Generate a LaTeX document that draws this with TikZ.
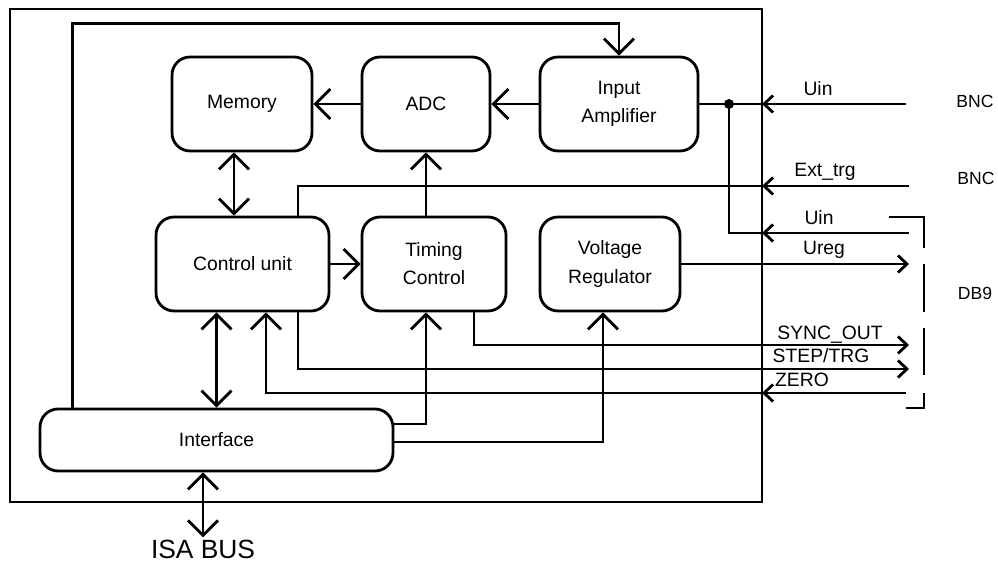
\documentclass[tikz,border=0pt]{standalone}
\usepackage{fontspec}
\setmainfont{Liberation Sans}
\usepackage{tikz}
\usetikzlibrary{calc,arrows.meta}
\definecolor{wireBlack}{RGB}{0,0,0}

\begin{document}
\begin{tikzpicture}[x=0.02cm, y=-0.02cm, line width=1.6pt, draw=wireBlack,
  blk/.style={draw, rounded corners=0.36cm, align=center, minimum height=1.88cm, font=\fontsize{11}{16}\selectfont},
  sig/.style={anchor=base, inner sep=0pt, font=\fontsize{11}{13}\selectfont},
  plug/.style={anchor=base, inner sep=0pt, font=\fontsize{10}{12}\selectfont},
  bigtip/.style={-{Straight Barb[length=3mm,width=6mm]}},
  bothtip/.style={{Straight Barb[length=3mm,width=6mm]}-{Straight Barb[length=3mm,width=6mm]}},
  smalltip/.style={-{Straight Barb[length=1.8mm,width=3.4mm]}}]
\useasboundingbox (0,0) rectangle (998,563);
\fill[white] (0,0) rectangle (998,563);

\draw (10,9) rectangle (762,502);

% blocks
\node[blk, minimum width=2.8cm] (mem) at (242,104) {Memory};
\node[blk, minimum width=2.56cm] (adc) at (426,104) {ADC};
\node[blk, minimum width=3.16cm] (amp) at (619,104) {Input\\Amplifier};
\node[blk, minimum width=3.46cm] (ctrl) at (242.5,264) {Control unit};
\node[blk, minimum width=2.88cm] (tim) at (434,264) {Timing\\Control};
\node[blk, minimum width=2.8cm] (vreg) at (610,264) {Voltage\\Regulator};
\node[blk, minimum width=7.06cm, minimum height=1.24cm] (intf) at (216.5,440) {Interface};
\node[anchor=base, inner sep=1pt, font=\fontsize{15}{17}\selectfont] (isa) at (203,559) {ISA BUS};

% ports on the right
\coordinate (e1) at (762,104);
\coordinate (e2) at (762,186);
\coordinate (e3) at (762,233);
\coordinate (e4) at (762,393);
\coordinate (jn) at (729,104);
\coordinate (pUin1) at (906,104);
\coordinate (pExt) at (909,186);
\coordinate (pUin2) at (909,233);
\coordinate (pUreg) at (909,264);
\coordinate (pSync) at (909,345);
\coordinate (pStep) at (909,369);
\coordinate (pZero) at (906,393);

\node[sig] (lUin1) at (818,96) {Uin};
\node[sig] (lExt) at (825,177) {Ext\_trg};
\node[sig] (lUin2) at (819,225) {Uin};
\node[sig] (lUreg) at (824,255) {Ureg};
\node[sig] (lSync) at (830,340) {SYNC\_OUT};
\node[sig] (lStep) at (821,363) {STEP/TRG};
\node[sig] (lZero) at (802,387) {ZERO};
\node[plug] (bnc1) at (975,108) {BNC};
\node[plug] (bnc2) at (976,185) {BNC};
\node[plug] (db9) at (975,300) {DB9};

% connectors
\draw[bigtip] (adc.west) -- (mem.east);
\draw[bigtip] (amp.west) -- (adc.east);
\draw[bothtip] ($(mem.south)+(-8,0)$) -- ($(ctrl.north)+(-8.5,0)$);
\draw[bigtip] (ctrl.east) -- (tim.west);
\draw[bigtip] (tim.north -| adc.south) -- (adc.south);
\draw[bothtip] (ctrl.south -| intf.north) -- (intf.north);
\draw[bothtip] (isa.north) -- (isa.north |- intf.south);
\draw[bigtip] ($(intf.north west)+(34,0)$) |- ($(amp.north)+(0,-32)$) -- (amp.north);
\draw[bigtip] ($(intf.east)+(0,-16)$) -| (tim.south -| adc.south);
\draw[bigtip] ($(intf.east)+(0,2)$) -| ($(vreg.south)+(-7,0)$);

\draw[smalltip] (pUin1) -- (e1);
\draw (e1) -- (amp.east);
\fill (jn) circle[radius=0.1cm];
\draw[smalltip] (pUin2) -- (e3);
\draw (e3) -| (jn);
\draw[smalltip] (pExt) -- (e2);
\draw (e2) -| ($(ctrl.north)+(55.5,0)$);
\draw[smalltip] (vreg.east) -- (pUreg);
\draw[smalltip] ($(tim.south)+(40,0)$) |- (pSync);
\draw[smalltip] ($(ctrl.south)+(55.5,0)$) |- (pStep);
\draw[smalltip] (pZero) -- (e4);
\draw[bigtip] (e4) -| ($(ctrl.south)+(23.5,0)$);

% DB9 bracket
\draw (889,217) -| (924,248);
\foreach \ya/\yb in {264/312,328/375}
  \draw (924,\ya) -- (924,\yb);
\draw (924,393) |- (906,408);
\end{tikzpicture}
\end{document}
